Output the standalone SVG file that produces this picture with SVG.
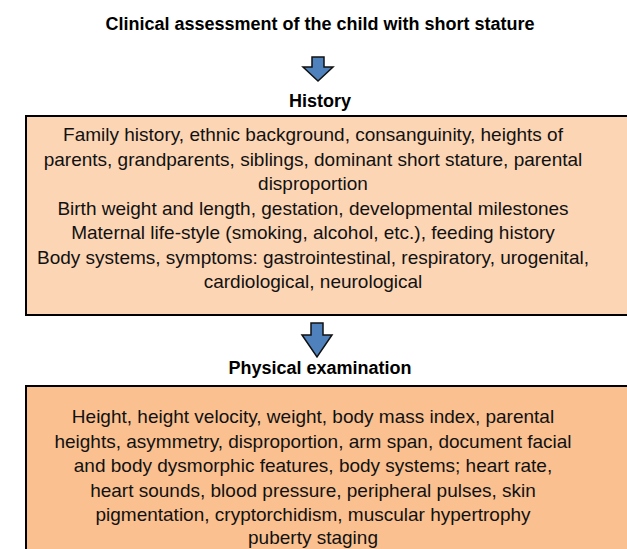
<svg xmlns="http://www.w3.org/2000/svg" width="627" height="549" viewBox="0 0 627 549">
<style>
.lbl{font-family:"Liberation Sans",Arial,sans-serif;font-weight:bold;font-size:18px;fill:#000;text-anchor:middle}
.txt{font-family:"Liberation Sans",Arial,sans-serif;font-size:19px;fill:#111;text-anchor:middle}
.box{stroke:#000;stroke-width:2}
.arr{fill:#4F81BD;stroke:#111;stroke-width:1.5;stroke-linejoin:miter}
</style>
<rect width="627" height="549" fill="#fff"/>
<g id="title"><text class="lbl" x="320" y="30">Clinical assessment of the child with short stature</text></g>
<g id="connectors">
<path class="arr" d="M312,57 H324 V67 H333 L318,81 L303,67 H312 Z"/>
<path class="arr" d="M311,323 H323 V335 H332 L317,357 L302,335 H311 Z"/>
</g>
<g id="history">
<text class="lbl" x="320" y="107">History</text>
<rect class="box" x="26" y="116" width="620" height="199" fill="#FCD5B5"/>
<text class="txt" x="313" y="141">Family history, ethnic background, consanguinity, heights of</text>
<text class="txt" x="313" y="165.5">parents, grandparents, siblings, dominant short stature, parental</text>
<text class="txt" x="313" y="190">disproportion</text>
<text class="txt" x="313" y="214.5">Birth weight and length, gestation, developmental milestones</text>
<text class="txt" x="313" y="239">Maternal life-style (smoking, alcohol, etc.), feeding history</text>
<text class="txt" x="313" y="263.5">Body systems, symptoms: gastrointestinal, respiratory, urogenital,</text>
<text class="txt" x="313" y="288">cardiological, neurological</text>
</g>
<g id="physical">
<text class="lbl" x="320" y="374">Physical examination</text>
<rect class="box" x="26" y="386" width="620" height="180" fill="#FAC090"/>
<text class="txt" x="313" y="423">Height, height velocity, weight, body mass index, parental</text>
<text class="txt" x="313" y="447.5">heights, asymmetry, disproportion, arm span, document facial</text>
<text class="txt" x="313" y="472">and body dysmorphic features, body systems; heart rate,</text>
<text class="txt" x="313" y="496.5">heart sounds, blood pressure, peripheral pulses, skin</text>
<text class="txt" x="313" y="521">pigmentation, cryptorchidism, muscular hypertrophy</text>
<text class="txt" x="313" y="544">puberty staging</text>
</g>
</svg>
